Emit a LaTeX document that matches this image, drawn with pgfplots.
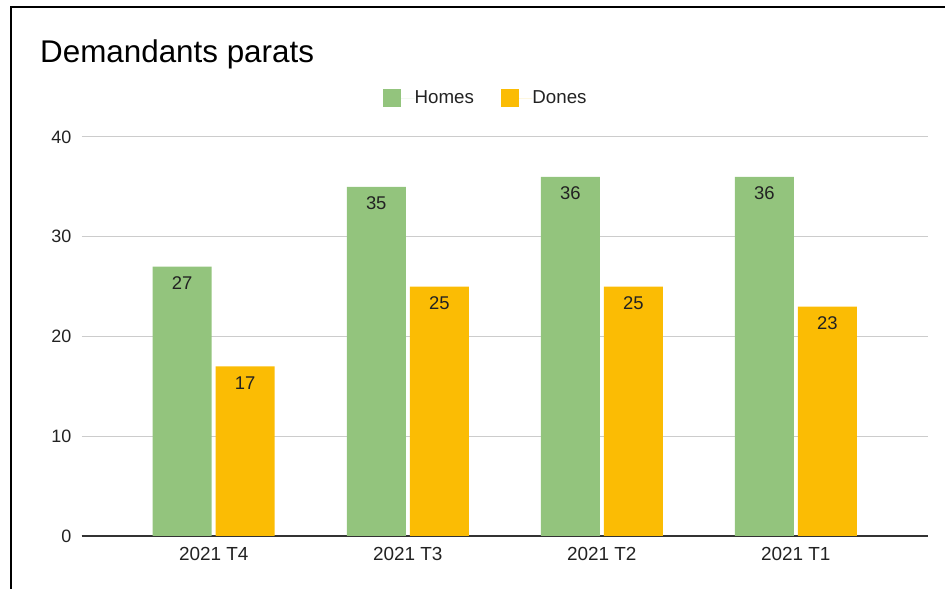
\documentclass[border=0pt]{standalone}
\usepackage{pgfplots}
\pgfplotsset{compat=1.18}
\usepackage{fontspec}
\setmainfont{Liberation Sans}
\definecolor{cgreen}{HTML}{93C47D}
\definecolor{corange}{HTML}{FBBC04}
\definecolor{cgrid}{HTML}{CCCCCC}
\definecolor{ctext}{HTML}{222222}
\definecolor{cbase}{HTML}{333333}
\begin{document}
\begin{tikzpicture}[x=1bp,y=1bp]
\path[use as bounding box] (0,0) rectangle (945,589);
\draw[black, line width=2bp] (10.5,0) -- (10.5,581.5) -- (945,581.5);
\node[anchor=base west, inner sep=0pt, font=\fontsize{31.5}{36}\selectfont, text=black] at (40,526) {Demandants parats};
\begin{axis}[
  at={(81.5bp,53bp)}, anchor=south west,
  scale only axis, width=846.5bp, height=399bp,
  xmin=-0.6816, xmax=3.6816, ymin=0, ymax=40,
  xtick={0,1,2,3}, xticklabels={2021 T4,2021 T3,2021 T2,2021 T1},
  ytick={0,10,20,30,40},
  major tick length=0pt,
  ymajorgrids, grid style={cgrid, line width=1bp},
  axis x line=bottom, axis y line=left,
  x axis line style={-, draw=cbase, line width=1.3bp},
  y axis line style={draw=none},
  /pgf/number format/assume math mode=true,
  tick label style={font=\fontsize{18}{21}\selectfont, text=ctext, inner sep=0pt},
  yticklabel style={anchor=east, xshift=-10bp},
  xticklabel style={anchor=north, yshift=-11bp, font=\fontsize{19}{22}\selectfont},
  ybar, bar width=59bp,
  nodes near coords,
  every node near coord/.append style={font=\fontsize{18.5}{21}\selectfont, text=ctext, anchor=center, yshift=-16.5bp, inner sep=0pt},
  legend columns=2,
  legend style={draw=none, fill=none, at={(0.4765,1.0977)}, anchor=center,
    font=\fontsize{18.8}{21}\selectfont, text=ctext,
    /tikz/every even column/.append style={column sep=27bp},
    nodes={inner sep=0pt, anchor=west}},
  legend image code/.code={\fill[#1] (-0.5bp,-9bp) rectangle (17.5bp,9bp); \path (0,0) -- (31bp,0);},
]
\addplot[fill=cgreen, draw=none, bar shift=-31.5bp] coordinates {(0,27) (1,35) (2,36) (3,36)};
\addlegendentry{Homes}
\addplot[fill=corange, draw=none, bar shift=31.5bp] coordinates {(0,17) (1,25) (2,25) (3,23)};
\addlegendentry{Dones}
\end{axis}
\end{tikzpicture}
\end{document}
